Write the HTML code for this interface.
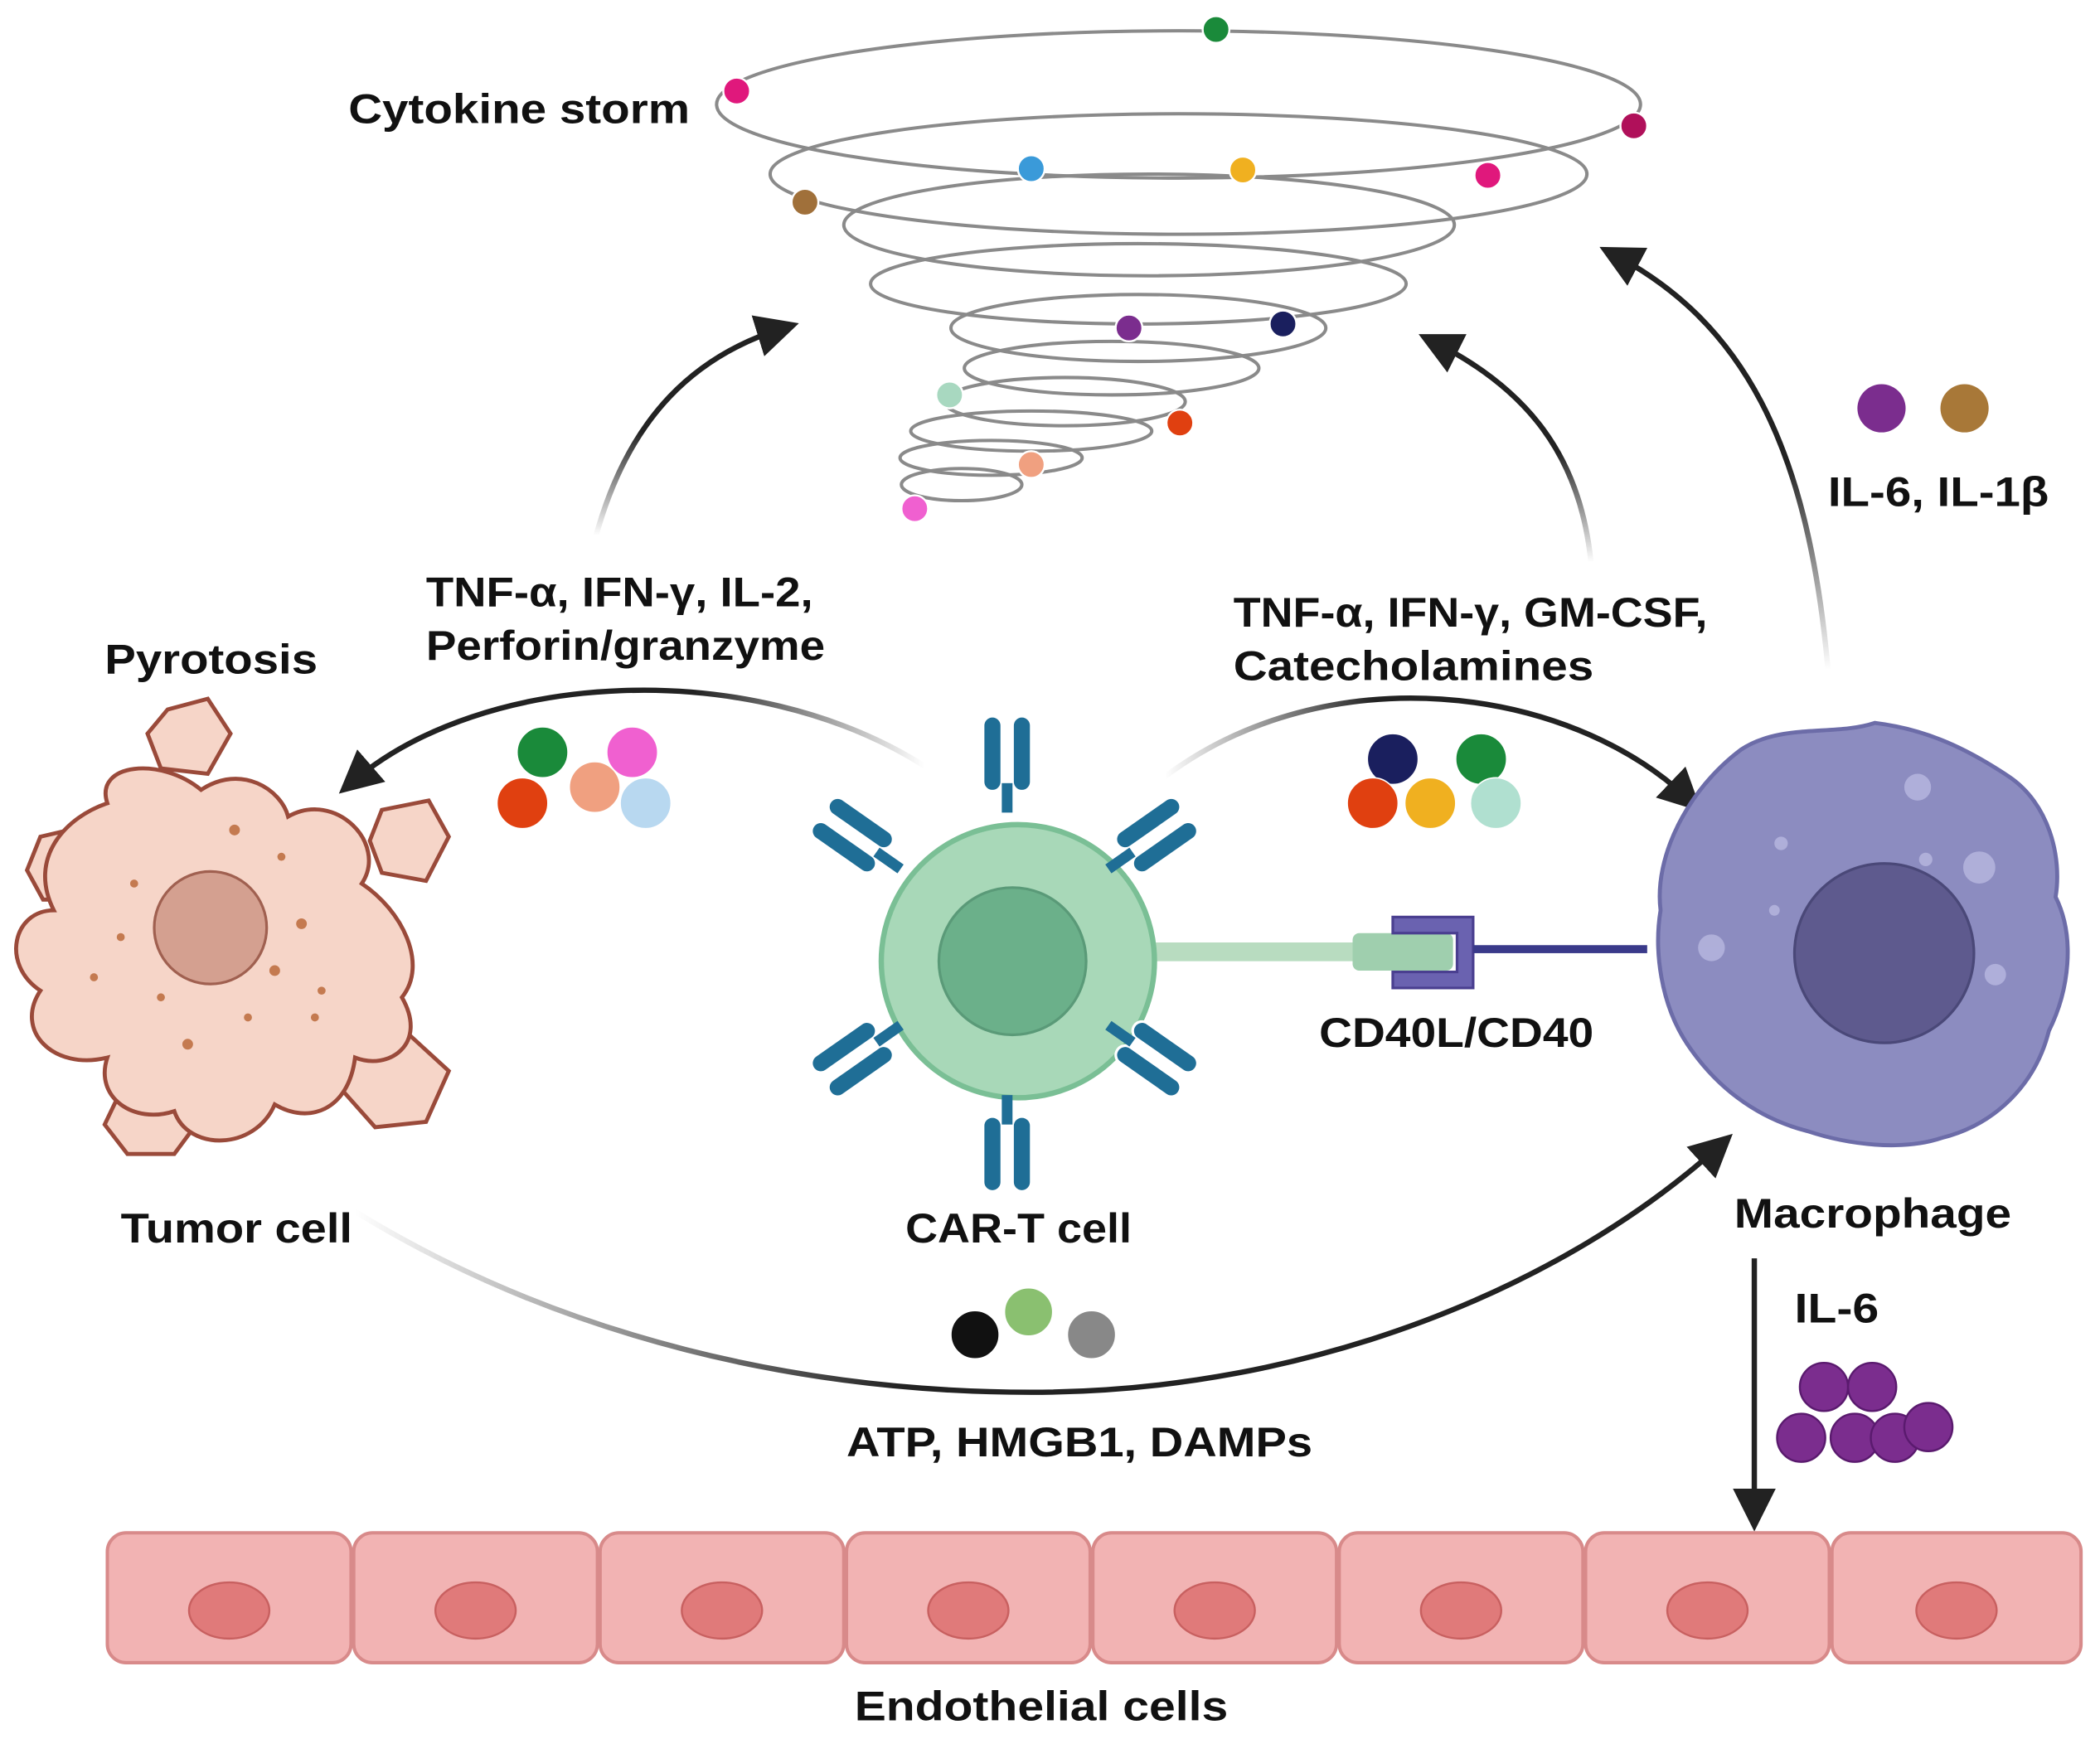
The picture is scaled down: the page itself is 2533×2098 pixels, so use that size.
<!DOCTYPE html>
<html><head><meta charset="utf-8"><style>
html,body{margin:0;padding:0;background:#fff}
svg{display:block}
text{font-family:"Liberation Sans",sans-serif;font-weight:bold;fill:#111;font-size:31px}
</style></head><body>
<svg width="2533" height="2098" viewBox="0 0 1568 1299" xmlns="http://www.w3.org/2000/svg">
<defs>
<marker id="ah" markerWidth="8" markerHeight="8" refX="5" refY="4" orient="auto" markerUnits="strokeWidth">
<path d="M0,0 L8,4 L0,8 Z" fill="#222"/></marker>
<linearGradient id="gup" x1="0" y1="1" x2="0" y2="0"><stop offset="0" stop-color="#222" stop-opacity="0"/><stop offset="0.5" stop-color="#222"/></linearGradient>
<linearGradient id="gl" x1="1" y1="0" x2="0" y2="0"><stop offset="0" stop-color="#222" stop-opacity="0"/><stop offset="0.4" stop-color="#222"/></linearGradient>
<linearGradient id="gr" x1="0" y1="0" x2="1" y2="0"><stop offset="0" stop-color="#222" stop-opacity="0"/><stop offset="0.4" stop-color="#222"/></linearGradient>
<g id="rec"><rect x="-18" y="-30" width="14" height="56" rx="7" fill="#1f6e96" stroke="#fff" stroke-width="2"/><rect x="4" y="-30" width="14" height="56" rx="7" fill="#1f6e96" stroke="#fff" stroke-width="2"/><rect x="-4" y="20" width="8" height="22" fill="#1f6e96"/></g>
</defs>
<rect width="1568" height="1299" fill="#fff"/>
<g fill="none" stroke="#8a8a8a" stroke-width="2.5">
<ellipse cx="880" cy="78" rx="345" ry="55"/>
<ellipse cx="880" cy="130" rx="305" ry="45"/>
<ellipse cx="858" cy="168" rx="228" ry="38"/>
<ellipse cx="850" cy="212" rx="200" ry="30"/>
<ellipse cx="850" cy="245" rx="140" ry="25"/>
<ellipse cx="830" cy="275" rx="110" ry="20"/>
<ellipse cx="795" cy="300" rx="90" ry="18"/>
<ellipse cx="770" cy="322" rx="90" ry="15"/>
<ellipse cx="740" cy="342" rx="68" ry="13"/>
<ellipse cx="718" cy="362" rx="45" ry="12"/>
</g>
<g stroke="#fff" stroke-width="1.5">
<circle cx="550" cy="68" r="10" fill="#e0187c"/><circle cx="908" cy="22" r="10" fill="#1a8a3a"/>
<circle cx="1220" cy="94" r="10" fill="#b0105a"/><circle cx="1111" cy="131" r="10" fill="#e0187c"/>
<circle cx="770" cy="126" r="10" fill="#3a9ad9"/><circle cx="928" cy="127" r="10" fill="#f0b020"/>
<circle cx="601" cy="151" r="10" fill="#a0703a"/><circle cx="843" cy="245" r="10" fill="#7b2d8e"/>
<circle cx="958" cy="242" r="10" fill="#1a1f5e"/><circle cx="709" cy="295" r="10" fill="#a8d8c0"/>
<circle cx="881" cy="316" r="10" fill="#e04010"/><circle cx="770" cy="347" r="10" fill="#f0a080"/>
<circle cx="683" cy="380" r="10" fill="#f060d0"/>
</g>
<text x="260" y="92" textLength="255" lengthAdjust="spacingAndGlyphs">Cytokine storm</text>
<g fill="none" stroke-width="4" marker-end="url(#ah)">
<path d="M445,400 C470,310 520,265 585,245" stroke="url(#gup)"/>
<path d="M1188,420 C1180,340 1140,290 1070,255" stroke="url(#gup)"/>
<path d="M1365,500 C1350,330 1300,240 1205,190" stroke="url(#gup)"/>
<path d="M690,572 C560,490 360,500 262,585" stroke="url(#gl)"/>
<path d="M870,580 C990,490 1170,510 1262,598" stroke="url(#gr)"/>
<path d="M265,905 C420,1000 600,1040 770,1040 C980,1040 1170,960 1285,855" stroke="url(#gr)"/>
<path d="M1310,940 L1310,1132" stroke="#222"/>
</g>
<g stroke="#9a4a3a" stroke-width="3" fill="#f6d5c8">
<path d="M125,530 L155,522 L172,548 L155,578 L120,574 L110,548Z"/>
<path d="M285,605 L320,598 L335,625 L318,658 L285,652 L276,628Z"/>
<path d="M30,625 L60,618 L78,642 L65,672 L32,672 L20,650Z"/>
<path d="M262,785 L300,768 L335,800 L318,838 L280,842 L256,815Z"/>
<path d="M90,815 L125,805 L150,835 L130,862 L95,862 L78,840Z"/>
<path d="M80,600 C70,570 120,565 150,590 C180,570 210,590 215,610 C250,590 290,630 270,660 C300,680 320,720 300,745 C320,780 290,800 265,790 C260,830 230,840 205,825 C190,860 140,860 130,830 C100,840 70,820 80,790 C40,800 10,770 30,740 C0,720 10,680 40,680 C20,640 50,610 80,600Z"/>
</g>
<circle cx="157" cy="693" r="42" fill="#d4a090" stroke="#a06050" stroke-width="2"/>
<g fill="#c47a50"><circle cx="100" cy="660" r="3"/><circle cx="210" cy="640" r="3"/><circle cx="225" cy="690" r="4"/><circle cx="205" cy="725" r="4"/><circle cx="120" cy="745" r="3"/><circle cx="140" cy="780" r="4"/><circle cx="185" cy="760" r="3"/><circle cx="90" cy="700" r="3"/><circle cx="70" cy="730" r="3"/><circle cx="240" cy="740" r="3"/><circle cx="175" cy="620" r="4"/><circle cx="235" cy="760" r="3"/></g>
<text x="78" y="503" textLength="159" lengthAdjust="spacingAndGlyphs">Pyrotosis</text>
<text x="90" y="928" textLength="173" lengthAdjust="spacingAndGlyphs">Tumor cell</text>
<rect x="835" y="704" width="180" height="14" fill="#b8dcc0"/>
<rect x="1010" y="697" width="75" height="28" rx="5" fill="#9fcfae"/>
<path d="M1040,685 L1100,685 L1100,738 L1040,738 L1040,726 L1088,726 L1088,697 L1040,697Z" fill="#6a62b0" stroke="#4a3f90" stroke-width="2"/>
<rect x="1100" y="706" width="130" height="6" fill="#3a3a8a"/>
<circle cx="760" cy="718" r="102" fill="#a8d8b8" stroke="#7abf95" stroke-width="4"/>
<circle cx="756" cy="718" r="55" fill="#6bb08a" stroke="#5a9a78" stroke-width="2"/>
<use href="#rec" transform="translate(752,565) rotate(0)"/>
<use href="#rec" transform="translate(752,860) rotate(180)"/>
<use href="#rec" transform="translate(638,625) rotate(-55)"/>
<use href="#rec" transform="translate(862,625) rotate(55)"/>
<use href="#rec" transform="translate(638,790) rotate(-125)"/>
<use href="#rec" transform="translate(862,790) rotate(125)"/>
<text x="676" y="928" textLength="169" lengthAdjust="spacingAndGlyphs">CAR-T cell</text>
<text x="985" y="782" textLength="205" lengthAdjust="spacingAndGlyphs">CD40L/CD40</text>
<path d="M1300,560 C1330,540 1370,550 1400,540 C1440,545 1470,560 1500,580 C1530,600 1540,640 1535,670 C1550,700 1545,740 1530,770 C1520,810 1490,840 1450,850 C1420,860 1380,855 1350,845 C1310,835 1280,810 1260,780 C1240,750 1235,710 1240,680 C1235,640 1260,590 1300,560Z" fill="#8c8cc0" stroke="#6c6ca8" stroke-width="3"/>
<circle cx="1407" cy="712" r="67" fill="#5e5a8e" stroke="#4a4878" stroke-width="2"/>
<g fill="#b8b8e0" opacity="0.8"><circle cx="1432" cy="588" r="10"/><circle cx="1478" cy="648" r="12"/><circle cx="1278" cy="708" r="10"/><circle cx="1490" cy="728" r="8"/><circle cx="1330" cy="630" r="5"/><circle cx="1438" cy="642" r="5"/><circle cx="1325" cy="680" r="4"/></g>
<text x="1295" y="917" textLength="207" lengthAdjust="spacingAndGlyphs">Macrophage</text>
<text x="1340" y="988" textLength="63" lengthAdjust="spacingAndGlyphs">IL-6</text>
<text x="1365" y="378" textLength="165" lengthAdjust="spacingAndGlyphs">IL-6, IL-1β</text>
<circle cx="1405" cy="305" r="18" fill="#7b2d8e"/><circle cx="1467" cy="305" r="18" fill="#a87838"/>
<g fill="#7b2d8e" stroke="#5a1a6e" stroke-width="1.5">
<circle cx="1362" cy="1036" r="18"/><circle cx="1398" cy="1036" r="18"/><circle cx="1345" cy="1074" r="18"/><circle cx="1385" cy="1074" r="18"/><circle cx="1415" cy="1074" r="18"/><circle cx="1440" cy="1066" r="18"/>
</g>
<g stroke="#fff" stroke-width="1">
<circle cx="405" cy="562" r="19" fill="#1a8a3a"/><circle cx="472" cy="562" r="19" fill="#f060d0"/>
<circle cx="390" cy="600" r="19" fill="#e04010"/><circle cx="444" cy="588" r="19" fill="#f0a080"/><circle cx="482" cy="600" r="19" fill="#b8d8f0"/>
<circle cx="1040" cy="567" r="19" fill="#1a1f5e"/><circle cx="1106" cy="567" r="19" fill="#1a8a3a"/>
<circle cx="1025" cy="600" r="19" fill="#e04010"/><circle cx="1068" cy="600" r="19" fill="#f0b020"/><circle cx="1117" cy="600" r="19" fill="#b0e0d0"/>
<circle cx="768" cy="980" r="18" fill="#8ac070"/><circle cx="728" cy="997" r="18" fill="#111"/><circle cx="815" cy="997" r="18" fill="#888"/>
</g>
<text x="318" y="453" textLength="289" lengthAdjust="spacingAndGlyphs">TNF-α, IFN-γ, IL-2,</text>
<text x="318" y="493" textLength="298" lengthAdjust="spacingAndGlyphs">Perforin/granzyme</text>
<text x="921" y="468" textLength="354" lengthAdjust="spacingAndGlyphs">TNF-α, IFN-γ, GM-CSF,</text>
<text x="921" y="508" textLength="269" lengthAdjust="spacingAndGlyphs">Catecholamines</text>
<text x="632" y="1088" textLength="348" lengthAdjust="spacingAndGlyphs">ATP, HMGB1, DAMPs</text>
<g fill="#f2b3b3" stroke="#d88a8a" stroke-width="2.5">
<rect x="80" y="1145" width="182" height="97" rx="14"/><rect x="264" y="1145" width="182" height="97" rx="14"/>
<rect x="448" y="1145" width="182" height="97" rx="14"/><rect x="632" y="1145" width="182" height="97" rx="14"/>
<rect x="816" y="1145" width="182" height="97" rx="14"/><rect x="1000" y="1145" width="182" height="97" rx="14"/>
<rect x="1184" y="1145" width="182" height="97" rx="14"/><rect x="1368" y="1145" width="186" height="97" rx="14"/>
</g>
<g fill="#e07a7a" stroke="#c86060" stroke-width="1.5">
<ellipse cx="171" cy="1203" rx="30" ry="21"/><ellipse cx="355" cy="1203" rx="30" ry="21"/><ellipse cx="539" cy="1203" rx="30" ry="21"/><ellipse cx="723" cy="1203" rx="30" ry="21"/>
<ellipse cx="907" cy="1203" rx="30" ry="21"/><ellipse cx="1091" cy="1203" rx="30" ry="21"/><ellipse cx="1275" cy="1203" rx="30" ry="21"/><ellipse cx="1461" cy="1203" rx="30" ry="21"/>
</g>
<text x="638" y="1285" textLength="279" lengthAdjust="spacingAndGlyphs">Endothelial cells</text>
</svg>
</body></html>
